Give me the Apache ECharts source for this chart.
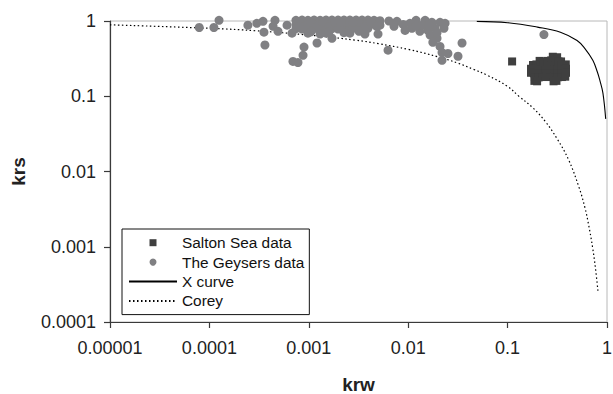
<!DOCTYPE html>
<html>
<head>
<meta charset="utf-8">
<script src="https://cdn.jsdelivr.net/npm/echarts@6/dist/echarts.min.js"></script>
<style>
html,body{margin:0;padding:0;background:#fff;}
#chart{width:613px;height:394px;}
</style>
</head>
<body>
<div id="chart"></div>
<script>
// ---- data ----
var xTickLabels = ['0.00001', '0.0001', '0.001', '0.01', '0.1', '1'];
var yTickLabels = ['0.0001', '0.001', '0.01', '0.1', '1'];

var saltonSea = [
  [0.111, 0.29],
  [0.285, 0.335], [0.315, 0.33],
  [0.21, 0.295], [0.232, 0.29], [0.253, 0.295], [0.275, 0.30], [0.30, 0.30], [0.325, 0.29], [0.345, 0.29],
  [0.18, 0.26], [0.195, 0.265], [0.212, 0.26], [0.232, 0.26], [0.253, 0.26], [0.275, 0.26], [0.30, 0.26], [0.325, 0.26], [0.352, 0.26], [0.385, 0.265],
  [0.172, 0.232], [0.184, 0.23], [0.202, 0.228], [0.222, 0.228], [0.243, 0.228], [0.267, 0.228], [0.293, 0.228], [0.321, 0.228], [0.352, 0.228], [0.387, 0.232],
  [0.172, 0.205], [0.184, 0.202], [0.202, 0.202], [0.222, 0.202], [0.243, 0.202], [0.267, 0.202], [0.293, 0.202], [0.321, 0.202], [0.352, 0.202], [0.387, 0.205],
  [0.188, 0.18], [0.205, 0.178], [0.225, 0.18], [0.245, 0.182], [0.267, 0.18], [0.293, 0.18], [0.321, 0.179], [0.352, 0.18], [0.38, 0.182],
  [0.186, 0.16], [0.198, 0.158], [0.29, 0.158], [0.31, 0.16]
];

var geysers = [
  [7.9e-5, 0.82], [1.11e-4, 0.82], [1.25e-4, 1.02],
  [2.44e-4, 0.88], [3.0e-4, 0.93], [3.46e-4, 0.99], [3.54e-4, 0.71], [3.62e-4, 0.48],
  [4.57e-4, 1.02], [4.37e-4, 0.85], [4.9e-4, 0.73], [6.04e-4, 0.88], [6.78e-4, 0.69],
  [6.93e-4, 0.29], [7.78e-4, 0.28], [8.75e-4, 0.35], [8.95e-4, 0.45], [1.21e-3, 0.51], [1.71e-3, 0.59],
  [7.43e-4, 1.02], [7.43e-4, 0.90], [7.43e-4, 0.79],
  [8.55e-4, 1.03], [8.55e-4, 0.91], [8.55e-4, 0.78],
  [9.8e-4, 1.02], [9.8e-4, 0.89], [9.8e-4, 0.77], [9.8e-4, 0.69],
  [1.13e-3, 1.03], [1.13e-3, 0.90], [1.13e-3, 0.79],
  [1.30e-3, 1.02], [1.30e-3, 0.91], [1.30e-3, 0.78], [1.30e-3, 0.67],
  [1.49e-3, 1.03], [1.49e-3, 0.90], [1.49e-3, 0.77], [1.49e-3, 0.69],
  [1.71e-3, 1.03], [1.71e-3, 0.91], [1.71e-3, 0.79],
  [1.97e-3, 1.03], [1.97e-3, 0.90], [1.97e-3, 0.78],
  [2.26e-3, 1.03], [2.26e-3, 0.91], [2.26e-3, 0.79], [2.26e-3, 0.70],
  [2.59e-3, 1.03], [2.59e-3, 0.90], [2.59e-3, 0.78], [2.59e-3, 0.69],
  [2.99e-3, 1.03], [2.99e-3, 0.91], [2.99e-3, 0.80],
  [3.43e-3, 1.03], [3.43e-3, 0.90], [3.43e-3, 0.79],
  [3.67e-3, 0.67],
  [3.94e-3, 1.03], [3.94e-3, 0.91], [3.94e-3, 0.80],
  [4.53e-3, 1.02], [4.53e-3, 0.90],
  [4.97e-3, 0.67],
  [5.2e-3, 1.01], [5.2e-3, 0.88],
  [8.0e-4, 0.96], [9.2e-4, 0.84], [1.05e-3, 0.96], [1.21e-3, 0.84], [1.39e-3, 0.96],
  [1.6e-3, 0.84], [1.84e-3, 0.96], [2.1e-3, 0.84], [2.42e-3, 0.96], [2.78e-3, 0.84],
  [3.2e-3, 0.96], [3.67e-3, 0.84], [4.2e-3, 0.96], [4.85e-3, 0.84],
  [8.0e-4, 0.84], [1.05e-3, 0.72], [1.6e-3, 0.72], [2.1e-3, 0.96], [2.78e-3, 0.96], [3.2e-3, 0.73],
  [6.4e-3, 1.0], [7.7e-3, 0.99], [8.9e-3, 0.9], [1.04e-2, 0.93], [1.2e-2, 1.02],
  [1.48e-2, 1.02], [1.73e-2, 0.96], [2.09e-2, 0.96], [2.35e-2, 0.93], [1.09e-2, 0.8],
  [1.31e-2, 0.73], [1.58e-2, 0.75], [1.66e-2, 0.65], [1.95e-2, 0.59], [2.09e-2, 0.46],
  [2.19e-2, 0.38], [2.19e-2, 0.30], [2.51e-2, 0.37], [3.17e-2, 0.34], [3.48e-2, 0.51],
  [2.29e-2, 0.8], [1.86e-2, 0.8], [1.38e-2, 0.88], [9.3e-3, 0.75], [7.2e-3, 0.85],
  [1.2e-2, 0.86], [1.62e-2, 0.88], [1.95e-2, 0.70], [1.77e-2, 0.52],
  [6.27e-3, 0.41],
  [0.232, 0.66]
];

var xCurve = [
  [0.049, 0.99], [0.1, 0.95], [0.2, 0.83], [0.34, 0.71], [0.5, 0.55], [0.6, 0.43],
  [0.72, 0.30], [0.8, 0.21], [0.85, 0.16], [0.91, 0.11], [0.97, 0.05]
];

var corey = [
  [1e-5, 0.89], [1e-4, 0.80], [3e-4, 0.74], [0.001, 0.65], [0.003, 0.555], [0.005, 0.50],
  [0.01, 0.42], [0.02, 0.334], [0.0317, 0.275], [0.045, 0.229], [0.0625, 0.19],
  [0.1, 0.135], [0.13, 0.10], [0.178, 0.071], [0.24, 0.046], [0.316, 0.027],
  [0.41, 0.0144], [0.522, 0.0062], [0.6, 0.0033], [0.656, 0.0019], [0.716, 0.00098],
  [0.764, 0.00053], [0.81, 0.00026]
];

// ---- chart ----
var FONT = "'Liberation Sans', Arial, sans-serif";
function fmt(labels, minExp) {
  return function (v) {
    var i = Math.round(Math.log10(v)) - minExp;
    return labels[i] !== undefined ? labels[i] : '';
  };
}

var chart = echarts.init(document.getElementById('chart'), null, { renderer: 'svg' });
chart.setOption({
  animation: false,
  backgroundColor: '#fff',
  grid: {
    left: 110, top: 21, right: 6, bottom: 72,
    containLabel: false, outerBoundsMode: 'none',
    show: true, borderColor: '#b8b8b8', borderWidth: 1, backgroundColor: 'transparent'
  },
  xAxis: {
    type: 'log', logBase: 10, min: 0.00001, max: 1,
    name: 'krw', nameLocation: 'middle', nameGap: 53,
    nameTextStyle: { fontFamily: FONT, fontWeight: 'bold', fontSize: 19, color: '#222' },
    axisLine: { show: true, lineStyle: { color: '#3a3a3a', width: 1.2 } },
    axisTick: { show: true, length: 6, lineStyle: { color: '#3a3a3a', width: 1.2 } },
    minorTick: { show: false },
    splitLine: { show: false },
    axisLabel: { fontFamily: FONT, fontSize: 18, color: '#222', margin: 17, formatter: fmt(xTickLabels, -5) }
  },
  yAxis: {
    type: 'log', logBase: 10, min: 0.0001, max: 1,
    name: 'krs', nameLocation: 'middle', nameGap: 82, nameRotate: 90,
    nameTextStyle: { fontFamily: FONT, fontWeight: 'bold', fontSize: 19, color: '#222' },
    axisLine: { show: true, lineStyle: { color: '#3a3a3a', width: 1.2 } },
    axisTick: { show: true, length: 6, lineStyle: { color: '#3a3a3a', width: 1.2 } },
    minorTick: { show: false },
    splitLine: { show: false },
    axisLabel: { fontFamily: FONT, fontSize: 18, color: '#222', margin: 14, formatter: fmt(yTickLabels, -4) }
  },
  legend: {
    orient: 'vertical', left: 122, top: 229,
    itemWidth: 48, itemHeight: 7, itemGap: 0,
    padding: [4, 5, 4, 6],
    borderColor: '#111', borderWidth: 1, borderRadius: 0,
    backgroundColor: '#fff',
    textStyle: { fontFamily: FONT, fontSize: 15.4, color: '#111', lineHeight: 19.4 },
    data: [
      { name: 'Salton Sea data', icon: 'path://M0,0H10V10H0Z' },
      { name: 'The Geysers data', icon: 'circle' },
      { name: 'X curve', itemStyle: { opacity: 0 } },
      { name: 'Corey', itemStyle: { opacity: 0 } }
    ]
  },
  series: [
    {
      name: 'X curve', type: 'line', data: xCurve, symbol: 'none', smooth: 0.4,
      lineStyle: { color: '#000', width: 1.1, type: 'solid' }, itemStyle: { color: '#000' }, z: 2
    },
    {
      name: 'Corey', type: 'line', data: corey, symbol: 'none', smooth: 0.4,
      lineStyle: { color: '#000', width: 1.2, type: [1.5, 2.5] }, itemStyle: { color: '#000' }, z: 2
    },
    {
      name: 'The Geysers data', type: 'scatter', data: geysers, symbol: 'circle', symbolSize: 9,
      clip: false, itemStyle: { color: '#808083', opacity: 1 }, z: 3
    },
    {
      name: 'Salton Sea data', type: 'scatter', data: saltonSea, symbol: 'rect', symbolSize: 8,
      clip: false, itemStyle: { color: '#3f3f3f', opacity: 1 }, z: 4
    }
  ]
});
</script>
</body>
</html>
